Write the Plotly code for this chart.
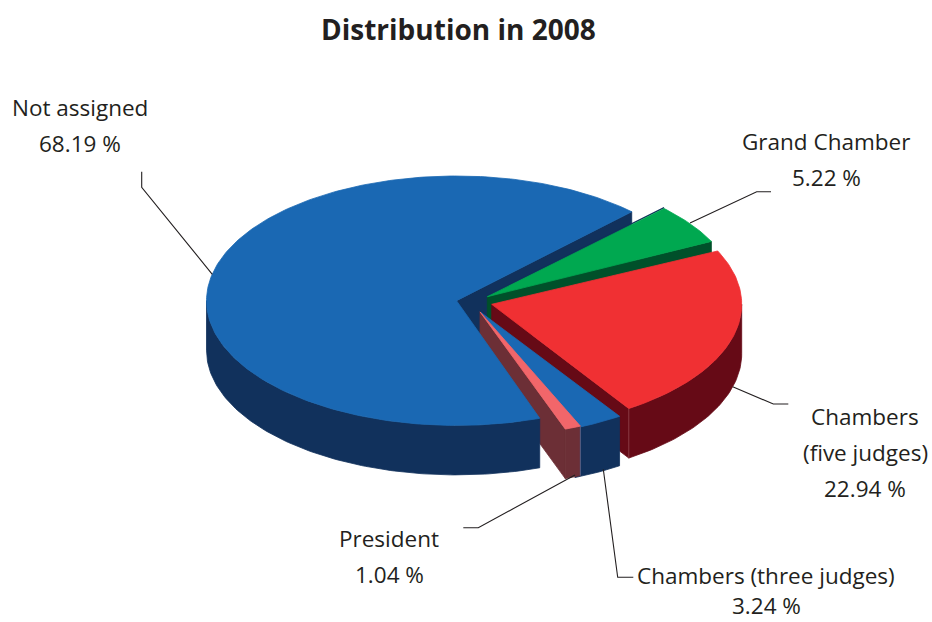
import numpy as np
import plotly.graph_objects as go

# ---- data ----
categories = ["Grand Chamber", "Chambers (five judges)", "Chambers (three judges)", "President", "Not assigned"]
values = [5.22, 22.94, 3.24, 1.04, 68.19]
title_text = "Distribution in 2008"

# ---- styles ----
top_colors = ["#00a850", "#f03033", "#1a68b3", "#f2666a", "#1a68b3"]
wall_colors = ["#00502a", "#660a16", "#11315c", "#6c2f36", "#11315c"]
explode = [(13.3, -8.3), (17.7, -0.7), (7.0, 7.5), (6.0, 6.9), (-17.5, -4.3)]
turn = [0.0, -1.0, -0.6, 1.0, 0.5]
CX, CY, RX, RY, DEPTH = 474.0, 305.0, 250.0, 124.7, 49.5
START = 45.0
TEXT = "#231f20"
FONT = "Open Sans"
LABEL_SIZE = 22.5

fig = go.Figure()


def poly(xs, ys, color):
    fig.add_trace(go.Scatter(x=list(xs), y=list(ys), mode="lines", fill="toself", fillcolor=color,
                             line=dict(color=color, width=0.8), hoverinfo="skip", showlegend=False))


def stroke(xs, ys, color, width):
    fig.add_trace(go.Scatter(x=list(xs), y=list(ys), mode="lines", line=dict(color=color, width=width),
                             hoverinfo="skip", showlegend=False))


def arc(cx, cy, a, b, dz=0.0):
    n = max(2, int(abs(a - b)) + 2)
    t = np.radians(np.linspace(a, b, n))
    return cx + RX * np.cos(t), cy - RY * np.sin(t) + dz


# slice angles from the values (clockwise from START)
total = sum(values)
angles = []
cur = START
for v, tr in zip(values, turn):
    sweep = v / total * 360.0
    angles.append((cur + tr, cur - sweep + tr))
    cur -= sweep


def outer(i, angle):
    cx, cy = CX + explode[i][0], CY + explode[i][1]
    ox, oy = arc(cx, cy, angle, angle)
    return cx, cy, ox[0], oy[0]


def radial_wall(i, angle):
    cx, cy, ox, oy = outer(i, angle)
    poly([cx, ox, ox, cx, cx], [cy, oy, oy + DEPTH, cy + DEPTH, cy], wall_colors[i])


def rim(i):
    cx, cy = CX + explode[i][0], CY + explode[i][1]
    a, b = angles[i]
    hi, lo = min(a, 0.0), max(b, -180.0)
    if hi <= lo:
        return
    x1, y1 = arc(cx, cy, hi, lo)
    x2, y2 = arc(cx, cy, lo, hi, DEPTH)
    poly(np.r_[x1, x2, x1[0]], np.r_[y1, y2, y1[0]], wall_colors[i])


def top(i):
    cx, cy = CX + explode[i][0], CY + explode[i][1]
    a, b = angles[i]
    x, y = arc(cx, cy, a, b)
    poly(np.r_[cx, x, cx], np.r_[cy, y, cy], top_colors[i])


def corner(i, angle, color):
    _, _, ox, oy = outer(i, angle)
    stroke([ox, ox], [oy, oy + DEPTH], color, 0.8)


# back to front
radial_wall(4, angles[4][1])            # blue cut face, seen at upper right
radial_wall(0, angles[0][1])
cx0, cy0, ox0, oy0 = outer(0, angles[0][0])
stroke([cx0, ox0], [cy0 - 0.8, oy0 - 0.8], wall_colors[4], 1.4)   # dark back edge of the green slice
top(0)
radial_wall(1, angles[1][1])
rim(1)
corner(1, angles[1][1], "#93444d")
top(1)
rim(2)
top(2)
radial_wall(3, angles[3][1])
rim(3)
corner(3, angles[3][0], "#4d6f9c")
top(3)
rim(4)
top(4)

# leader lines
leaders = [
    ([141.7, 141.7, 212.3], [171.7, 187.3, 274.3]),
    ([690, 756.7, 771], [223, 191.7, 191.7]),
    ([732.7, 773.3, 788.3], [386.7, 404, 404]),
    ([575, 478.3, 463.3], [475, 527.7, 527.7]),
    ([603.3, 617.7, 633.3], [469.3, 577.3, 577.3]),
]
for lx, ly in leaders:
    stroke(lx, ly, TEXT, 1.1)


def label(text, x, y, size=LABEL_SIZE, bold=False):
    fig.add_annotation(x=x, y=y, xref="x", yref="y", text=f"<b>{text}</b>" if bold else text,
                       showarrow=False, xanchor="center", yanchor="middle",
                       font=dict(family=FONT, size=size, color=TEXT))


pct = [f"{v:.2f} %" for v in values]
label(title_text, 458, 29, 28, True)
label(categories[4], 79.5, 107)
label(pct[4], 79.5, 143)
label(categories[0], 826, 141)
label(pct[0], 826, 177)
label("Chambers", 865, 416)
label("(five judges)", 865, 452)
label(pct[1], 865, 488)
label(categories[3], 389, 538)
label(pct[3], 389, 574)
label(categories[2], 766, 575)
label(pct[2], 766, 605)

fig.update_layout(
    width=932, height=622, margin=dict(l=0, r=0, t=0, b=0),
    paper_bgcolor="white", plot_bgcolor="white", showlegend=False,
    xaxis=dict(range=[0, 932], visible=False, fixedrange=True),
    yaxis=dict(range=[622, 0], visible=False, fixedrange=True),
)
fig.write_html("out.html", config={"displayModeBar": False},
               post_script="document.body.style.margin='0';")
